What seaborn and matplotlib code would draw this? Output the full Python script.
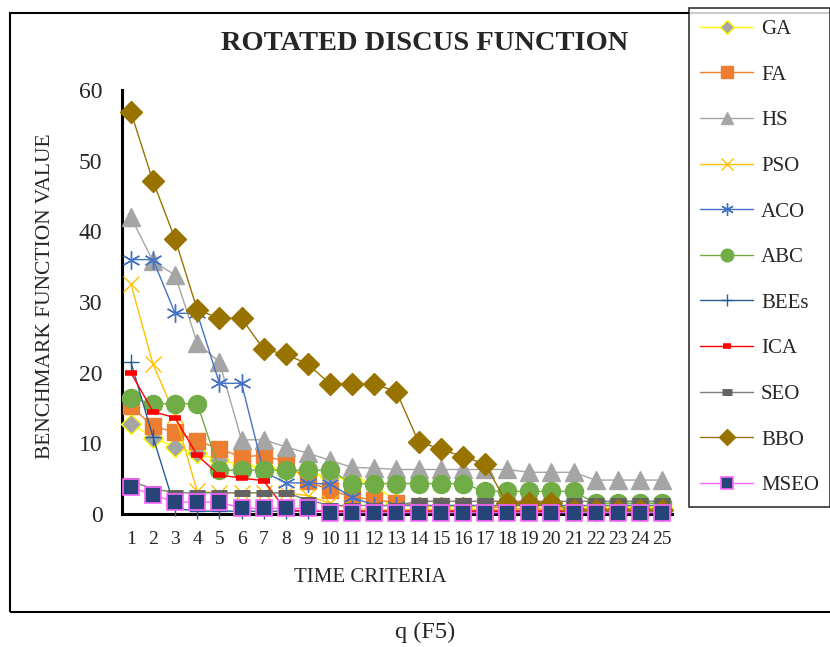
import numpy as np
import pandas as pd
import matplotlib
matplotlib.use("Agg")
import matplotlib.pyplot as plt
import seaborn as sns
from matplotlib.patches import Rectangle

# dati
criteria = list(range(1, 26))
ga = [12.8, 10.8, 9.5, 8.6, 7.6, 7.0, 6.6, 6.1, 5.7, 5.3, 4.9, 4.4, 1.5,
      1.0, 1.0, 1.0, 1.0, 1.0, 1.0, 1.0, 1.0, 1.0, 1.0, 1.0, 1.0]
fa = [15.3, 12.4, 11.6, 10.4, 9.2, 8.1, 8.3, 7.4, 4.6, 3.4, 2.4, 2.0, 1.6,
      1.2, 1.2, 1.2, 1.2, 0.7, 0.7, 0.7, 0.7, 0.7, 0.7, 0.7, 0.7]
hs = [42.0, 35.8, 33.8, 24.2, 21.5, 10.5, 10.5, 9.5, 8.6, 7.6, 6.6, 6.5, 6.3,
      6.3, 6.3, 6.3, 6.3, 6.3, 5.9, 5.9, 5.9, 4.8, 4.8, 4.8, 4.8]
pso = [32.6, 21.2, 14.0, 3.2, 3.0, 3.0, 3.0, 3.0, 2.6, 1.5, 0.8, 0.6, 0.6,
       0.6, 0.6, 0.6, 0.6, 0.6, 0.6, 0.6, 0.6, 0.6, 0.6, 0.6, 0.6]
aco = [36.0, 36.0, 28.4, 28.4, 18.5, 18.5, 6.0, 4.4, 4.4, 4.2, 2.4, 1.2, 1.2,
       1.2, 1.2, 1.2, 1.2, 1.2, 1.2, 1.2, 1.2, 1.2, 1.2, 1.2, 1.2]
abc = [16.4, 15.6, 15.6, 15.6, 6.2, 6.2, 6.2, 6.2, 6.2, 6.2, 4.3, 4.3, 4.3,
       4.3, 4.3, 4.3, 3.2, 3.2, 3.2, 3.2, 3.2, 1.5, 1.5, 1.5, 1.5]
bees = [21.5, 10.9, 0.8, 0.4, 0.4, 0.4, 0.4, 0.4, 0.4, 0.4, 0.4, 0.4, 0.4,
        0.4, 0.4, 0.4, 0.4, 0.4, 0.4, 0.4, 0.4, 0.4, 0.4, 0.4, 0.4]
ica = [20.0, 14.5, 13.6, 8.3, 5.5, 5.1, 4.7, 0.6, 0.4, 0.4, 0.4, 0.4, 0.4,
       0.4, 0.4, 0.4, 0.4, 0.4, 0.4, 0.4, 0.4, 0.4, 0.4, 0.4, 0.4]
seo = [4.6, 3.6, 3.0, 3.0, 3.0, 3.0, 3.0, 3.0, 2.0, 1.2, 1.2, 1.2, 1.2,
       1.8, 1.8, 1.8, 1.8, 1.8, 1.8, 1.8, 1.8, 1.8, 1.8, 1.8, 1.8]
bbo = [56.9, 47.1, 38.9, 28.9, 27.7, 27.7, 23.3, 22.6, 21.2, 18.4, 18.4, 18.4, 17.3,
       10.2, 9.2, 8.1, 7.1, 1.5, 1.5, 1.5, 0.5, 0.5, 0.5, 0.5, 0.5]
mseo = [3.8, 2.7, 1.7, 1.7, 1.7, 0.8, 0.8, 0.8, 0.8, 0.2, 0.2, 0.2, 0.2,
        0.2, 0.2, 0.2, 0.2, 0.2, 0.2, 0.2, 0.2, 0.2, 0.2, 0.2, 0.2]

# stile di ogni serie: nome, valori, colore linea, marker, riempimento, bordo, dimensione, spessore bordo
series = [
    ('GA', ga, '#FFFF00', 'D', '#A5A5A5', '#FFFF00', 10, 1.0),
    ('FA', fa, '#ED7D31', 's', '#ED7D31', '#ED7D31', 12, 1.0),
    ('HS', hs, '#A5A5A5', '^', '#A5A5A5', '#A5A5A5', 13, 1.0),
    ('PSO', pso, '#FFC000', 'x', '#FFC000', '#FFC000', 11.5, 1.0),
    ('ACO', aco, '#4472C4', (6, 2, 0), '#4472C4', '#4472C4', 13, 1.0),
    ('ABC', abc, '#70AD47', 'o', '#70AD47', '#70AD47', 13, 1.0),
    ('BEEs', bees, '#255E91', '+', '#255E91', '#255E91', 12, 1.0),
    ('ICA', ica, '#FF0000', '_', '#FF0000', '#FF0000', 8, 4.0),
    ('SEO', seo, '#7F7F7F', '_', '#636363', '#636363', 11, 5.0),
    ('BBO', bbo, '#997300', 'D', '#997300', '#997300', 11, 1.0),
    ('MSEO', mseo, '#FF66FF', 's', '#264478', '#FF66FF', 12, 1.2),
]

sns.set_style("white")
plt.rcParams['font.family'] = ['Liberation Serif', 'DejaVu Serif']

fig = plt.figure(figsize=(8.3, 6.47), dpi=100)
W, H = 830, 647
ax = fig.add_axes([122 / W, 1 - 514 / H, (672 - 122) / W, (514 - 90) / H])

for name, vals, col, mk, fc, ec, ms, mew in series:
    df = pd.DataFrame({'x': criteria, 'y': vals})
    sns.lineplot(data=df, x='x', y='y', ax=ax, color=col, linewidth=1.0,
                 marker=mk, markersize=ms, markerfacecolor=fc,
                 markeredgecolor=ec, markeredgewidth=mew, label=name,
                 legend=False, clip_on=False)

ax.set_xlim(0.6, 25.45)
ax.set_ylim(0, 60)
ax.set_xticks(criteria)
ax.set_xticklabels([str(c) for c in criteria])
ax.set_yticks(range(0, 61, 10))
ax.tick_params(axis='y', length=0, pad=14, labelsize=17)
ax.tick_params(axis='x', length=0, pad=12, labelsize=14)
ax.set_xlabel('')
ax.set_ylabel('')
for s in ['top', 'right']:
    ax.spines[s].set_visible(False)
for s in ['left', 'bottom']:
    ax.spines[s].set_color('black')
    ax.spines[s].set_linewidth(2.2)
    ax.spines[s].set_zorder(1)

fig.text(0.512, 1 - 43 / H, 'ROTATED DISCUS FUNCTION', ha='center', va='center',
         fontsize=20.5, fontweight='bold')
fig.text(45 / W, 1 - 296 / H, 'BENCHMARK FUNCTION VALUE', rotation=90,
         ha='center', va='center', fontsize=15.5)
fig.text(370 / W, 1 - 578 / H, 'TIME CRITERIA', ha='center', va='center', fontsize=15)
fig.text(425 / W, 1 - 632 / H, 'q (F5)', ha='center', va='center', fontsize=17.5)

# cornice esterna
fig.patches.append(Rectangle((10 / W, 1 - 612 / H), 830 / W, 599 / H,
                             transform=fig.transFigure, fill=False,
                             edgecolor='black', linewidth=1.5))

handles, labels = ax.get_legend_handles_labels()
leg = fig.legend(handles, labels, loc='upper left',
                 bbox_to_anchor=(689 / W, 1 - 8 / H), fontsize=15,
                 frameon=True, fancybox=False, edgecolor='black',
                 labelspacing=1.25, handlelength=2.5, handletextpad=0.4,
                 borderpad=0.55, markerscale=0.7, borderaxespad=0)
leg.get_frame().set_linewidth(1.2)

fig.savefig('out.png', dpi=100)
